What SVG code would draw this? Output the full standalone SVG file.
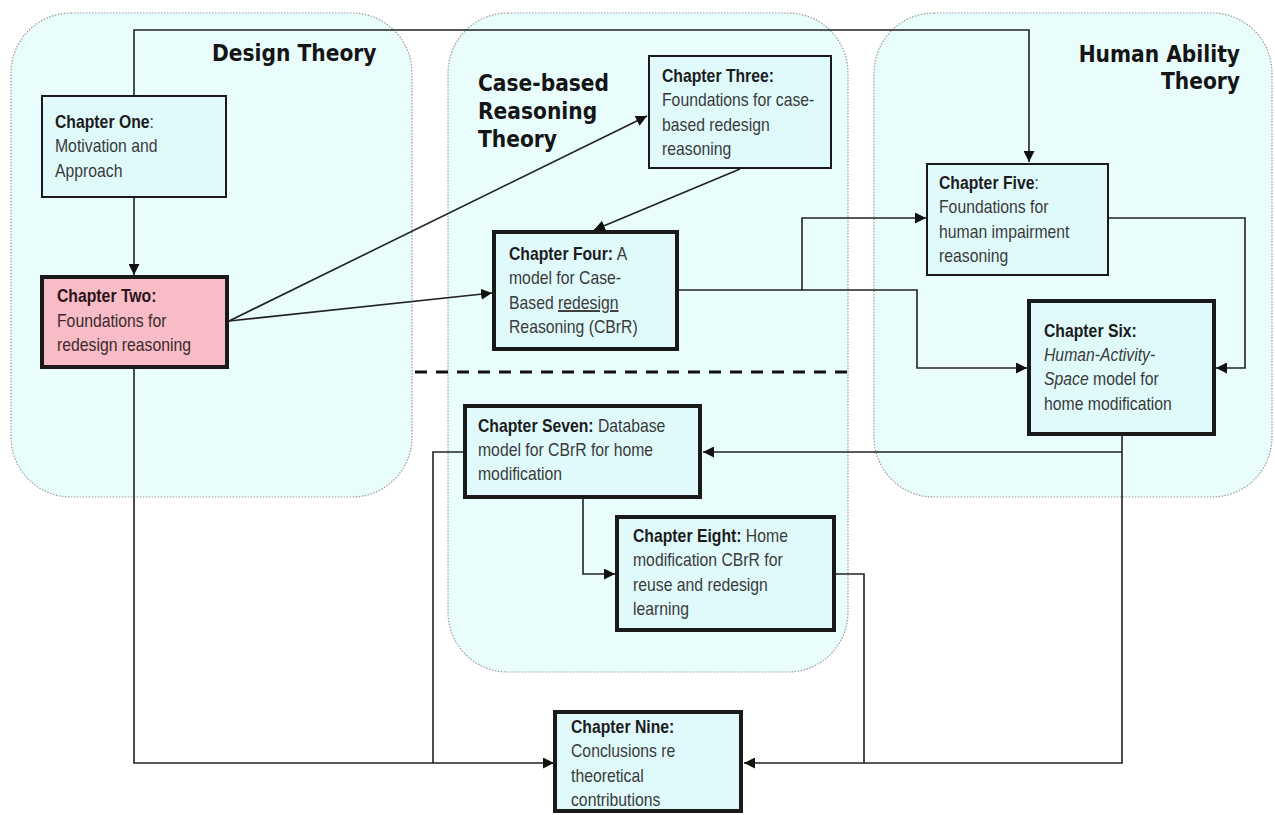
<svg xmlns="http://www.w3.org/2000/svg" width="1275" height="815" viewBox="0 0 1275 815">
  <style>
    .panel { fill: #e9fdfd; stroke: #9a9a9a; stroke-width: 1.2; stroke-dasharray: 1.5 1.5; }
    .box { fill: #e0fafc; stroke: #1a1a1a; }
    .thin { stroke-width: 2; }
    .thick { stroke-width: 4; }
    .pink { fill: #f8bcc6; }
    .title { font-family: "DejaVu Sans", Verdana, sans-serif; font-weight: bold; font-size: 22.5px; fill: #151515; }
    .t { font-family: "Liberation Sans", Arial, sans-serif; font-size: 19px; fill: #3a3a3a; }
    .b { font-weight: bold; fill: #1c1c1c; }
    .conn { fill: none; stroke: #222; stroke-width: 1.6; }
    .dash { fill: none; stroke: #111; stroke-width: 3; stroke-dasharray: 12 9; }
  </style>
  <defs>
    <marker id="arrow" viewBox="0 0 10 10" refX="10" refY="5" markerWidth="11" markerHeight="11" markerUnits="userSpaceOnUse" orient="auto">
      <path d="M0,0 L10,5 L0,10 z" fill="#111"/>
    </marker>
  </defs>

  <!-- theory areas -->
  <g id="panels">
    <g id="design-theory">
      <rect class="panel" x="11" y="13" width="401" height="484" rx="60" ry="60"/>
      <text class="title" transform="translate(212,61) scale(0.9,1)">Design Theory</text>
    </g>
    <g id="cbr-theory">
      <rect class="panel" x="448" y="13" width="400" height="659" rx="60" ry="60"/>
      <text class="title" transform="translate(478,91) scale(0.9,1)">Case-based<tspan x="0" dy="28">Reasoning</tspan><tspan x="0" dy="28">Theory</tspan></text>
    </g>
    <g id="human-ability-theory">
      <rect class="panel" x="874" y="13" width="398" height="484" rx="60" ry="60"/>
      <text class="title" text-anchor="end" transform="translate(1240,62) scale(0.9,1)">Human Ability<tspan x="0" dy="27">Theory</tspan></text>
    </g>
  </g>

  <!-- divider inside the case-based area -->
  <line class="dash" x1="415" y1="372" x2="853" y2="372"/>

  <!-- connectors -->
  <g id="connectors">
    <path class="conn" d="M134,95 V30 H1029 V162" marker-end="url(#arrow)"/>
    <path class="conn" d="M134,198 V275" marker-end="url(#arrow)"/>
    <path class="conn" d="M229,321 L647,116" marker-end="url(#arrow)"/>
    <path class="conn" d="M229,321 L492,293" marker-end="url(#arrow)"/>
    <path class="conn" d="M740,169 L594,230" marker-end="url(#arrow)"/>
    <path class="conn" d="M678,290 H917 V368 H1027" marker-end="url(#arrow)"/>
    <path class="conn" d="M802,290 V218 H926" marker-end="url(#arrow)"/>
    <path class="conn" d="M1109,218 H1245 V368 H1216" marker-end="url(#arrow)"/>
    <path class="conn" d="M1122,436 V763 H744" marker-end="url(#arrow)"/>
    <path class="conn" d="M1122,452 H703" marker-end="url(#arrow)"/>
    <path class="conn" d="M463,452 H433 V763"/>
    <path class="conn" d="M134,369 V763 H554" marker-end="url(#arrow)"/>
    <path class="conn" d="M583,498 V574 H615" marker-end="url(#arrow)"/>
    <path class="conn" d="M835,574 H864 V763"/>
  </g>

  <!-- chapters -->
  <g id="ch1">
    <rect class="box thin" x="42" y="96" width="184" height="101"/>
    <text class="t" transform="translate(55,128) scale(0.83,1)"><tspan class="b">Chapter One</tspan>:<tspan x="0" dy="24.5">Motivation and</tspan><tspan x="0" dy="24.5">Approach</tspan></text>
  </g>
  <g id="ch2">
    <rect class="box thick pink" x="42" y="277" width="185" height="90"/>
    <text class="t" transform="translate(57,302) scale(0.83,1)" style="fill:#3d2a2c"><tspan class="b" style="fill:#2a1418">Chapter Two:</tspan><tspan x="0" dy="25">Foundations for</tspan><tspan x="0" dy="24.5">redesign reasoning</tspan></text>
  </g>
  <g id="ch3">
    <rect class="box thin" x="649" y="56" width="182" height="112"/>
    <text class="t" transform="translate(662,82) scale(0.83,1)"><tspan class="b">Chapter Three:</tspan><tspan x="0" dy="24.5">Foundations for case-</tspan><tspan x="0" dy="25">based redesign</tspan><tspan x="0" dy="24">reasoning</tspan></text>
  </g>
  <g id="ch4">
    <rect class="box thick" x="494" y="232" width="183" height="117"/>
    <text class="t" transform="translate(509,260) scale(0.83,1)"><tspan class="b">Chapter Four:</tspan> A<tspan x="0" dy="24">model for Case-</tspan><tspan x="0" dy="25">Based </tspan><tspan text-decoration="underline">redesign</tspan><tspan x="0" dy="24.5">Reasoning (CBrR)</tspan></text>
  </g>
  <g id="ch5">
    <rect class="box thin" x="927" y="164" width="181" height="111"/>
    <text class="t" transform="translate(939,189) scale(0.83,1)"><tspan class="b">Chapter Five</tspan>:<tspan x="0" dy="24.5">Foundations for</tspan><tspan x="0" dy="24.5">human impairment</tspan><tspan x="0" dy="24.5">reasoning</tspan></text>
  </g>
  <g id="ch6">
    <rect class="box thick" x="1029" y="301" width="185" height="133"/>
    <text class="t" transform="translate(1044,337) scale(0.83,1)"><tspan class="b">Chapter Six:</tspan><tspan x="0" dy="24" font-style="italic">Human-Activity-</tspan><tspan x="0" dy="24.5" font-style="italic">Space</tspan> model for<tspan x="0" dy="24.5">home modification</tspan></text>
  </g>
  <g id="ch7">
    <rect class="box thick" x="465" y="406" width="235" height="91"/>
    <text class="t" transform="translate(478,432) scale(0.83,1)"><tspan class="b">Chapter Seven:</tspan> Database<tspan x="0" dy="24.5">model for CBrR for home</tspan><tspan x="0" dy="24">modification</tspan></text>
  </g>
  <g id="ch8">
    <rect class="box thick" x="617" y="517" width="217" height="113"/>
    <text class="t" transform="translate(633,542) scale(0.83,1)"><tspan class="b">Chapter Eight:</tspan> Home<tspan x="0" dy="24.5">modification CBrR for</tspan><tspan x="0" dy="25">reuse and redesign</tspan><tspan x="0" dy="24">learning</tspan></text>
  </g>
  <g id="ch9">
    <rect class="box thick" x="555" y="712" width="186" height="99"/>
    <text class="t" transform="translate(571,733) scale(0.83,1)"><tspan class="b">Chapter Nine:</tspan><tspan x="0" dy="24.5">Conclusions re</tspan><tspan x="0" dy="24.5">theoretical</tspan><tspan x="0" dy="24.5">contributions</tspan></text>
  </g>
</svg>
